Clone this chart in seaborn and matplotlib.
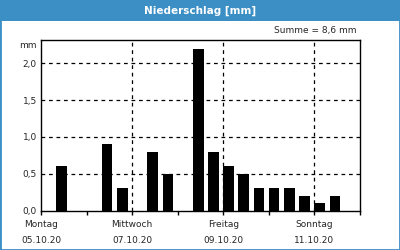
import matplotlib
matplotlib.use("Agg")
import matplotlib.pyplot as plt
import seaborn as sns
import pandas as pd

# data: hours since Monday 05.10.20 00:00 (centre of each 8-hour period bar)
hours = [10.8, 34.8, 42.8, 58.8, 66.8, 82.8, 90.8, 98.8, 106.8, 114.8, 122.8, 130.8, 138.8, 146.8, 154.8]
precip = [0.6, 0.9, 0.3, 0.8, 0.5, 2.2, 0.8, 0.6, 0.5, 0.3, 0.3, 0.3, 0.2, 0.1, 0.2]
day_names = ["Montag", "", "Mittwoch", "", "Freitag", "", "Sonntag", ""]
day_dates = ["05.10.20", "", "07.10.20", "", "09.10.20", "", "11.10.20", ""]
y_ticks = [0.0, 0.5, 1.0, 1.5, 2.0]
title = "Niederschlag [mm]"
summe = "Summe = 8,6 mm"

sns.set_theme(style="white")
plt.rcParams["font.family"] = ["DejaVu Sans"]

blue = "#3b8fc5"
fig = plt.figure(figsize=(4, 2.5), dpi=100, facecolor="white")

# border and title bar
fig.patches.append(plt.Rectangle((0, 0), 1, 1, transform=fig.transFigure,
                                 fill=False, edgecolor=blue, linewidth=2.0, zorder=0))
fig.patches.append(plt.Rectangle((0, 1 - 21 / 250), 1, 21 / 250, transform=fig.transFigure,
                                 facecolor=blue, edgecolor="none", zorder=1))
fig.text(0.5, 1 - 10.5 / 250, title, ha="center", va="center", color="white",
         fontsize=7.5, fontweight="bold")

ax = fig.add_axes([41 / 400, 1 - 210.5 / 250, 319 / 400, 170 / 250])
df = pd.DataFrame({"h": hours, "mm": precip})
sns.barplot(data=df, x="h", y="mm", native_scale=True, color="black",
            saturation=1, width=0.7, ax=ax, edgecolor="none")

ax.set_xlim(0, 168)
ax.set_ylim(0, 2.31)
ax.set_xlabel("")
ax.set_ylabel("")

xt = [24 * i for i in range(8)]
ax.set_xticks(xt)
ax.set_xticklabels([f"{n}\n{d}" if n else "" for n, d in zip(day_names, day_dates)],
                   fontsize=6.5, linespacing=1.9)
ax.set_yticks(y_ticks)
ax.set_yticklabels([f"{v:.1f}".replace(".", ",") for v in y_ticks], fontsize=6.5)
ax.tick_params(axis="x", bottom=True, direction="out", length=3, width=1,
               color="black", pad=4)
ax.tick_params(axis="y", left=False, length=0, pad=3)

for v in y_ticks[1:]:
    ax.axhline(v, color="black", linestyle=(0, (3, 3)), linewidth=0.9, zorder=0)
for h in [48, 96, 144]:
    ax.axvline(h, color="black", linestyle=(0, (3, 3)), linewidth=0.9, zorder=0)

for s in ax.spines.values():
    s.set_color("black")
    s.set_linewidth(1.0)

ax.text(-0.015, 2.245, "mm", transform=ax.get_yaxis_transform(), ha="right",
        va="center", fontsize=6.5)
fig.text(356 / 400, 1 - 31 / 250, summe, ha="right", va="center", fontsize=6.5)

fig.savefig("out.png", dpi=100, facecolor="white")
